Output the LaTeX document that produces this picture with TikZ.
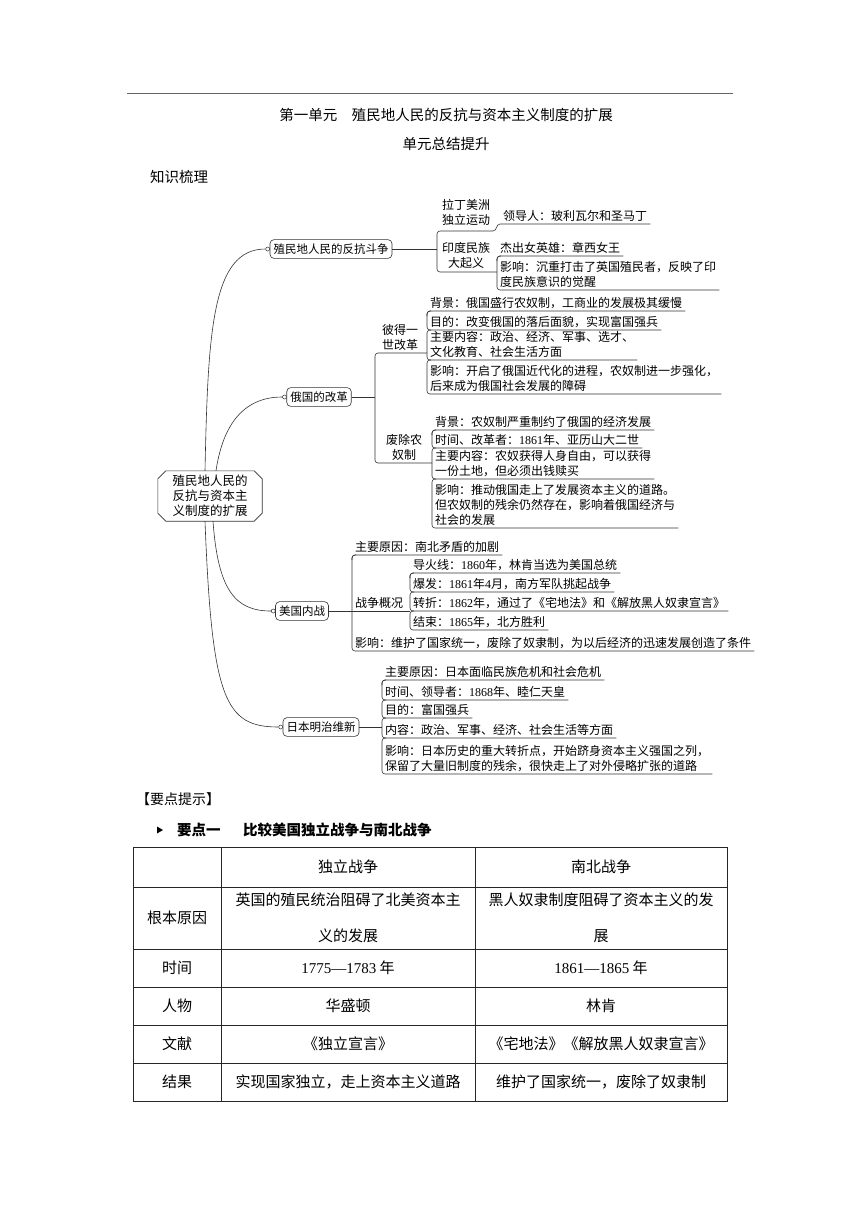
\documentclass[tikz,border=0pt]{standalone}
\usepackage{fontspec}
\setmainfont{Noto Sans CJK SC}
\newfontfamily\lser{Liberation Serif}
\newcommand\numf[1]{{\lser #1}}
\usetikzlibrary{calc}
\tikzset{
 ln/.style={draw=black!80, line width=0.6pt},
 mmf/.style={font=\fontsize{12}{15}\selectfont},
 item/.style={mmf, anchor=south west, inner xsep=3pt, inner ysep=2.5pt, align=left},
 lab/.style={mmf, align=center, inner sep=1pt},
 topic/.style={font=\fontsize{11.5}{15}\selectfont, draw=black!80, line width=0.6pt, rounded corners=4pt, inner xsep=3.5pt, inner ysep=4pt},
 dot/.style={circle, draw=black!80, fill=white, line width=0.5pt, inner sep=0pt, minimum size=4pt},
 tb/.style={font=\fontsize{15}{18}\selectfont, inner sep=0pt},
 hd/.style={font=\fontsize{14.5}{18}\selectfont, inner sep=0pt},
}
\newcommand\mmfirst[4]{%
 \node[item] (#1) at (#2,#3) {#4};
 \draw[ln, rounded corners=3pt] (#2,{#3+5}) -- (#2,#3) -- (#1.south east);}
\newcommand\mmnext[5]{%
 \node[item] (#1) at (#2,#4) {#5};
 \draw[ln, rounded corners=3pt] ({#2+4},#3) -- (#2,#3) -- (#2,#4) -- (#1.south east);}
\begin{document}
\begin{tikzpicture}[x=1pt,y=-1pt]
\fill[white] (0,0) rectangle (860,1216);
\useasboundingbox (0,0) rectangle (860,1216);
% header
\coordinate (r1) at (127,93); \coordinate (r2) at (733,93);
\draw[black!60, line width=0.6pt] (r1) -- (r2);
\node[hd] (title) at (446,115) {第一单元　殖民地人民的反抗与资本主义制度的扩展};
\node[hd] (sub) at (446,144) {单元总结提升};
\node[hd, anchor=west] (zs) at (150,177) {知识梳理};
% root
\node[minimum width=104pt, minimum height=50pt, align=center, font=\fontsize{12.5}{15}\selectfont] (root) at (210,496) {殖民地人民的\\反抗与资本主\\义制度的扩展};
\draw[ln] ([xshift=8pt]root.north west) -- ([xshift=-8pt]root.north east) -- ([yshift=-8pt]root.north east) -- ([yshift=8pt]root.south east) -- ([xshift=-8pt]root.south east) -- ([xshift=8pt]root.south west) -- ([yshift=8pt]root.south west) -- ([yshift=-8pt]root.north west) -- cycle;
% level 1
\node[topic] (A) at (331,249) {殖民地人民的反抗斗争};
\node[topic] (B) at (319,397) {俄国的改革};
\node[topic] (C) at (302,611) {美国内战};
\node[topic] (D) at (321,727) {日本明治维新};
\node[dot] (cA) at ([xshift=-2pt]A.west) {};
\node[dot] (cB) at ([xshift=-2pt]B.west) {};
\node[dot] (cC) at ([xshift=-2pt]C.west) {};
\node[dot] (cD) at ([xshift=-2pt]D.west) {};
\draw[ln] ([xshift=-5pt]root.north) .. controls (208,330) and (212,249) .. (cA.west);
\draw[ln] ([xshift=6pt]root.north) .. controls (222,430) and (240,397) .. (cB.west);
\draw[ln] ([xshift=3pt]root.south) .. controls (218,590) and (235,611) .. (cC.west);
\draw[ln] ([xshift=-5pt]root.south) .. controls (212,700) and (225,727) .. (cD.west);
% group A
\draw[ln] (A.east) -- (437,249);
\draw[ln, rounded corners=3pt] (493,231) -- (437,231) -- (437,272) -- (497,272);
\node[lab] (lat) at (466,212) {拉丁美洲\\独立运动};
\node[lab] (ind) at (466,255) {印度民族\\大起义};
\node[item] (lead) at (500,224) {领导人：玻利瓦尔和圣马丁};
\draw[ln] (493,231) .. controls (497,231) and (496,224) .. (lead.south west) -- (lead.south east);
\mmfirst{jx}{497}{256}{杰出女英雄：章西女王}
\mmnext{yx}{497}{256}{290}{影响：沉重打击了英国殖民者，反映了印\\度民族意识的觉醒}
% group B
\draw[ln] (B.east) -- (375,397);
\draw[ln, rounded corners=3pt] (427,353) -- (375,353) -- (375,463) -- (432,463);
\node[lab] (peter) at (400,337) {彼得一\\世改革};
\node[lab] (serf) at (404,447) {废除农\\奴制};
\mmfirst{b1}{427}{311}{背景：俄国盛行农奴制，工商业的发展极其缓慢}
\mmnext{b2}{427}{311}{330}{目的：改变俄国的落后面貌，实现富国强兵}
\mmnext{b3}{427}{330}{360}{主要内容：政治、经济、军事、选才、\\文化教育、社会生活方面}
\mmnext{b4}{427}{360}{394}{影响：开启了俄国近代化的进程，农奴制进一步强化，\\后来成为俄国社会发展的障碍}
\mmfirst{s1}{432}{430}{背景：农奴制严重制约了俄国的经济发展}
\mmnext{s2}{432}{430}{448}{时间、改革者：\numf{1861}年、亚历山大二世}
\mmnext{s3}{432}{448}{479}{主要内容：农奴获得人身自由，可以获得\\一份土地，但必须出钱赎买}
\mmnext{s4}{432}{479}{528}{影响：推动俄国走上了发展资本主义的道路。\\但农奴制的残余仍然存在，影响着俄国经济与\\社会的发展}
% group C
\draw[ln] (C.east) -- (410,611);
\mmfirst{c1}{352}{555}{主要原因：南北矛盾的加剧}
\node[item] (war) at (352,611) {战争概况};
\mmnext{c6}{352}{555}{651}{影响：维护了国家统一，废除了奴隶制，为以后经济的迅速发展创造了条件}
\mmfirst{c2}{410}{573}{导火线：\numf{1860}年，林肯当选为美国总统}
\mmnext{c3}{410}{573}{592}{爆发：\numf{1861}年\numf{4}月，南方军队挑起战争}
\mmnext{c4}{410}{592}{611}{转折：\numf{1862}年，通过了《宅地法》和《解放黑人奴隶宣言》}
\mmnext{c5}{410}{611}{630}{结束：\numf{1865}年，北方胜利}
% group D
\draw[ln] (D.east) -- (382,727);
\mmfirst{d1}{382}{680}{主要原因：日本面临民族危机和社会危机}
\mmnext{d2}{382}{680}{700}{时间、领导者：\numf{1868}年、睦仁天皇}
\mmnext{d3}{382}{700}{718}{目的：富国强兵}
\mmnext{d4}{382}{718}{738}{内容：政治、军事、经济、社会生活等方面}
\mmnext{d5}{382}{738}{774}{影响：日本历史的重大转折点，开始跻身资本主义强国之列，\\保留了大量旧制度的残余，很快走上了对外侵略扩张的道路}
% key points
\node[hd, anchor=west, font=\fontsize{14}{18}\selectfont] (yd) at (136,799) {【要点提示】};
\fill[black] (157,826.5) -- (163,830) -- (157,833.5) -- cycle;
\node[hd, anchor=west, font=\bfseries\fontsize{14.5}{18}\selectfont] (k1) at (177,830) {要点一};
\node[hd, anchor=west, font=\bfseries\fontsize{14.5}{18}\selectfont] (k2) at (243,830) {比较美国独立战争与南北战争};
% table
\draw[black!85, line width=0.7pt] (133,847) rectangle (727,1101);
\foreach \yy in {887,949,987,1025,1063} \draw[black!85, line width=0.7pt] (133,\yy) -- (727,\yy);
\foreach \xx in {221,475} \draw[black!85, line width=0.7pt] (\xx,847) -- (\xx,1101);
\node[tb] (h1) at (348,867) {独立战争};
\node[tb] (h2) at (601,867) {南北战争};
\node[tb] (r1a) at (177,918) {根本原因};
\node[tb] (r1b) at (348,900) {英国的殖民统治阻碍了北美资本主};
\node[tb] (r1c) at (348,936) {义的发展};
\node[tb] (r1d) at (601,900) {黑人奴隶制度阻碍了资本主义的发};
\node[tb] (r1e) at (601,936) {展};
\node[tb] (r2a) at (177,968) {时间};
\node[tb] (r2b) at (348,968) {\numf{1775—1783} 年};
\node[tb] (r2c) at (601,968) {\numf{1861—1865} 年};
\node[tb] (r3a) at (177,1006) {人物};
\node[tb] (r3b) at (348,1006) {华盛顿};
\node[tb] (r3c) at (601,1006) {林肯};
\node[tb] (r4a) at (177,1044) {文献};
\node[tb] (r4b) at (348,1044) {《独立宣言》};
\node[tb] (r4c) at (601,1044) {《宅地法》《解放黑人奴隶宣言》};
\node[tb] (r5a) at (177,1082) {结果};
\node[tb] (r5b) at (348,1082) {实现国家独立，走上资本主义道路};
\node[tb] (r5c) at (601,1082) {维护了国家统一，废除了奴隶制};
\end{tikzpicture}
\end{document}
